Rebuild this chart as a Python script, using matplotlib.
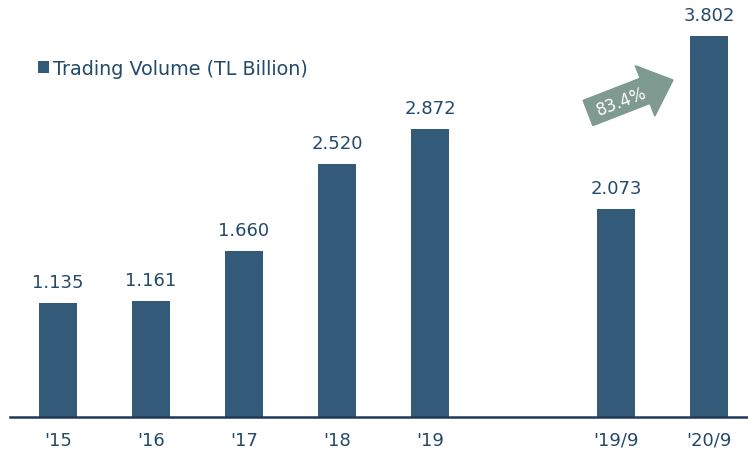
from matplotlib import pyplot as plt
from matplotlib.patches import FancyArrow
from matplotlib.transforms import IdentityTransform

plt.rcParams['font.family'] = ['DejaVu Sans']

# Trading volume by period
labels = ["'15", "'16", "'17", "'18", "'19", "'19/9", "'20/9"]
positions = [0, 1, 2, 3, 4, 6, 7]
volume = [1.135, 1.161, 1.660, 2.520, 2.872, 2.073, 3.802]
value_text = ["1.135", "1.161", "1.660", "2.520", "2.872", "2.073", "3.802"]
growth = "83.4%"

bar_color = '#345a7a'
text_color = '#234a6c'

fig = plt.figure(figsize=(7.48, 4.56), dpi=100)
ax = fig.add_axes([10 / 748, 38 / 456, 738 / 748, 418 / 456])

bars = ax.bar(positions, volume, width=0.4, color=bar_color,
              label='Trading Volume (TL Billion)')

for p, v, t in zip(positions, volume, value_text):
    ax.text(p, v + 0.12, t, ha='center', va='bottom', fontsize=13,
            color=text_color)

ax.set_xlim(-0.516, 7.42)
ax.set_ylim(0, 4.17)
ax.set_xticks(positions)
ax.set_xticklabels(labels, fontsize=13, color=text_color)
ax.tick_params(axis='x', length=0, pad=10)
ax.set_yticks([])
for s in ['top', 'right', 'left']:
    ax.spines[s].set_visible(False)
ax.spines['bottom'].set_color('#1f3a58')
ax.spines['bottom'].set_linewidth(1.8)

ax.legend(loc='upper left', bbox_to_anchor=(0.015, 0.898), frameon=False,
          fontsize=13.8, handlelength=0.55, handleheight=0.55,
          handletextpad=0.2, labelcolor=text_color)

# growth arrow, drawn in pixel coordinates
arrow = FancyArrow(588, 342, 85, 33, width=27, head_width=54, head_length=30,
                   length_includes_head=True, color='#7f9a91',
                   transform=IdentityTransform(), figure=fig)
fig.patches.append(arrow)
fig.text(622 / 748, 354 / 456, growth, ha='center', va='center',
         rotation=21, fontsize=12, color='white')

fig.savefig('out.png', dpi=100)
